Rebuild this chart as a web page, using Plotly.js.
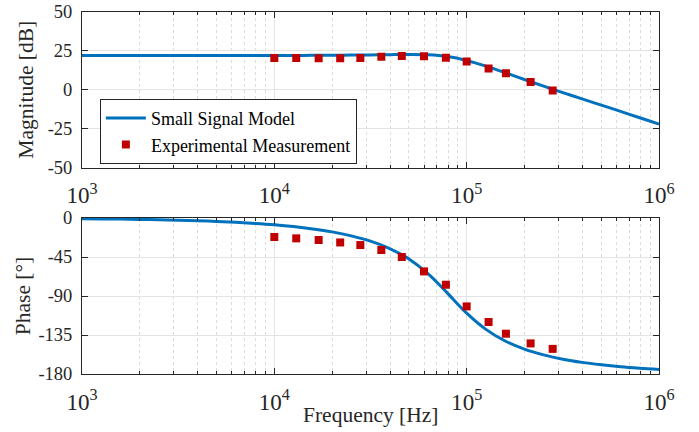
<!DOCTYPE html>
<html>
<head>
<meta charset="utf-8">
<script src="https://cdn.plot.ly/plotly-3.0.1.min.js"></script>
<style>html,body{margin:0;padding:0;background:#fff;}#chart{width:699px;height:432px;}</style>
</head>
<body>
<div id="chart"></div>
<script>
// Model curve, frequencies in Hz
const modelFreq = [1000,1259,1585,1995,2512,3162,3981,5012,6310,7943,10000,12589,15849,19953,25119,31623,39811,50119,63096,79433,100000,125893,158489,199526,251189,316228,398107,501187,630957,794328,1000000];
const modelMag = [22.0,22.0,22.0,22.0,22.0,22.0,22.01,22.01,22.02,22.03,22.05,22.08,22.12,22.19,22.28,22.42,22.58,22.69,22.48,21.36,18.84,15.2,11.0,6.6,2.3,-1.8,-5.9,-9.9,-13.9,-18.0,-22.1];
const modelPhase = [-0.8,-1.0,-1.2,-1.6,-2.0,-2.5,-3.1,-3.9,-4.9,-6.2,-7.8,-9.9,-12.6,-16.0,-20.6,-26.7,-35.2,-47.3,-64.5,-86.7,-109.8,-128.5,-141.9,-151.2,-157.9,-162.9,-166.6,-169.4,-171.7,-173.4,-174.8];
// Experimental measurement
const measFreq = [10000,13000,17000,22000,28000,36000,46000,60000,78000,100000,130000,160000,215000,280000];
const measMag = [20.4,20.4,20.2,20.2,20.4,21.3,21.7,21.5,20.6,18.1,13.6,10.6,5.0,-0.5];
const measPhase = [-21.9,-23.5,-25.4,-28.2,-31.2,-36.9,-45.0,-61.6,-77.0,-102.0,-120.0,-133.5,-144.7,-151.0];
// Tick labels
const magTicks = [-50,-25,0,25,50];
const magTickText = ["-50","-25","0","25","50"];
const phTicks = [-180,-135,-90,-45,0];
const phTickText = ["-180","-135","-90","-45","0"];

const blue = '#0072BD', red = '#C00000', axc = '#262626';
const fam = 'Liberation Serif, Times New Roman, serif';
const font = {family:fam, size:18.5, color:axc};
const tfont = {family:fam, size:21.5, color:axc};

const traces = [
  {x:modelFreq, y:modelMag, xaxis:'x', yaxis:'y', mode:'lines', name:'Small Signal Model', line:{color:blue, width:3, shape:'spline'}},
  {x:measFreq, y:measMag, xaxis:'x', yaxis:'y', mode:'markers', name:'Experimental Measurement', marker:{symbol:'square', color:red, size:8}},
  {x:modelFreq, y:modelPhase, xaxis:'x2', yaxis:'y2', mode:'lines', showlegend:false, line:{color:blue, width:3, shape:'spline'}},
  {x:measFreq, y:measPhase, xaxis:'x2', yaxis:'y2', mode:'markers', showlegend:false, marker:{symbol:'square', color:red, size:8}}
];

function xax(anchor){
  return {type:'log', range:[3,6], dtick:1, exponentformat:'power', showexponent:'all',
    anchor:anchor, showline:true, linecolor:axc, linewidth:1, mirror:'allticks',
    ticks:'inside', ticklen:6, tickcolor:axc, tickfont:font, ticklabelstandoff:8,
    showgrid:true, gridcolor:'#e3e3e3', gridwidth:1, zeroline:false,
    minor:{dtick:'D1', ticks:'inside', ticklen:3, tickcolor:axc, showgrid:true, gridcolor:'#dcdcdc', griddash:'dot', gridwidth:1}};
}
function yax(anchor, domain, range, vals, text, title, so){
  return {domain:domain, range:range, anchor:anchor, tickvals:vals, ticktext:text,
    showline:true, linecolor:axc, linewidth:1, mirror:'allticks', ticks:'inside', ticklen:6, tickcolor:axc,
    tickfont:font, ticklabelstandoff:5, showgrid:true, gridcolor:'#e3e3e3', gridwidth:1, zeroline:false,
    title:{text:title, font:tfont, standoff:so}};
}

const layout = {
  width:699, height:432, paper_bgcolor:'#fff', plot_bgcolor:'#fff',
  margin:{l:82, r:40, t:12, b:58}, font:font, showlegend:true,
  xaxis: Object.assign(xax('y'), {domain:[0,1]}),
  yaxis: yax('x', [0.5704,1], [-50,50], magTicks, magTickText, 'Magnitude [dB]', 8),
  xaxis2: Object.assign(xax('y2'), {domain:[0,1]}),
  yaxis2: yax('x2', [0,0.4309], [-180,0], phTicks, phTickText, 'Phase [°]', 1),
  annotations:[{text:'Frequency [Hz]', xref:'paper', yref:'paper', x:0.5, y:-0.112, xanchor:'center', yanchor:'middle',
    showarrow:false, font:tfont}],
  legend:{x:0.031, y:0.76, xanchor:'left', yanchor:'top', bgcolor:'#fff', bordercolor:axc, borderwidth:1,
    font:{family:fam, size:18, color:'#000'}, itemwidth:40, tracegroupgap:0}
};

Plotly.newPlot('chart', traces, layout, {displayModeBar:false, staticPlot:true});
</script>
</body>
</html>
